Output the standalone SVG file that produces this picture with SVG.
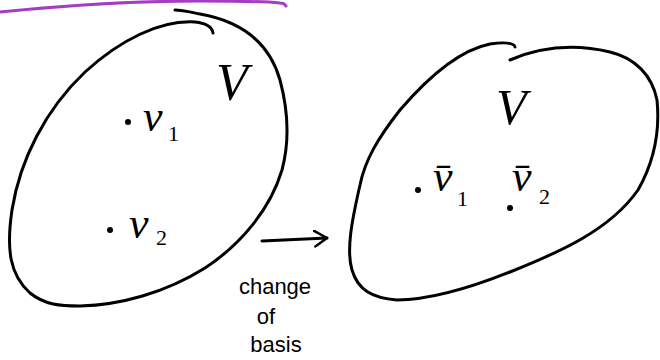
<svg xmlns="http://www.w3.org/2000/svg" width="660" height="360" viewBox="0 0 660 360">
  <defs>
    <style>
      .stroke { fill: none; stroke: #000; stroke-width: 3; stroke-linecap: round; stroke-linejoin: round; }
      .math { font-family: "Liberation Serif", "DejaVu Serif", serif; font-style: italic; fill: #000; }
      .sub { font-family: "Liberation Serif", "DejaVu Serif", serif; fill: #000; font-size: 22px; }
      .note { font-family: "Liberation Sans", "DejaVu Sans", sans-serif; fill: #000; font-size: 22px; text-anchor: middle; }
      .dot { fill: #000; }
    </style>
    <marker id="open-head" markerWidth="16" markerHeight="18" refX="14" refY="9" orient="auto" markerUnits="userSpaceOnUse">
      <path d="M1,1 L14,9 L2,17" fill="none" stroke="#000" stroke-width="2.5" stroke-linecap="round" stroke-linejoin="round"/>
    </marker>
  </defs>
  <rect width="660" height="360" fill="#fff"/>

  <!-- purple underline at top -->
  <path d="M0,12 C60,6 140,1 200,1 C240,1 270,2 280,3 C283,3 285,4 286,6" fill="none" stroke="#a43cc4" stroke-width="3" stroke-linecap="round"/>

  <g id="space-left">
    <path class="stroke" d="M213,33 C212,27 205,23 195,22 C160,20 120,40 85,72 C45,110 20,160 12,210 C6,250 10,275 30,293 C45,305 60,306 80,306 C120,305 165,293 205,268 C240,245 270,210 282,170 C290,140 288,110 280,80 C270,45 245,22 200,14 C190,12 182,10 175,10"/>
    <text class="math" x="216" y="100" font-size="52">V</text>
    <circle class="dot" cx="128" cy="122" r="3"/>
    <text class="math" x="143" y="131" font-size="44">v</text>
    <text class="sub" x="168" y="141">1</text>
    <circle class="dot" cx="110" cy="230" r="3"/>
    <text class="math" x="129" y="238" font-size="44">v</text>
    <text class="sub" x="156" y="245">2</text>
  </g>

  <g id="space-right">
    <path class="stroke" d="M515,47 C514,43 505,42 490,44 C460,50 430,75 400,110 C378,138 365,160 360,185 C352,220 346,250 352,270 C358,290 372,298 397,300 C430,300 470,288 510,272 C560,252 610,230 638,190 C655,160 660,130 657,100 C652,75 635,58 610,52 C580,45 545,45 510,60"/>
    <text class="math" x="496" y="124" font-size="50">V</text>
    <circle class="dot" cx="418" cy="190" r="3"/>
    <text class="math" x="433" y="191" font-size="44">v̄</text>
    <text class="sub" x="457" y="206">1</text>
    <circle class="dot" cx="510" cy="208" r="3"/>
    <text class="math" x="512" y="191" font-size="44">v̄</text>
    <text class="sub" x="539" y="204">2</text>
  </g>

  <g id="connectors">
    <line class="stroke" x1="262" y1="241" x2="327" y2="238" marker-end="url(#open-head)"/>
    <text class="note" x="275" y="294">change</text>
    <text class="note" x="266" y="324">of</text>
    <text class="note" x="276" y="352">basis</text>
  </g>
</svg>
